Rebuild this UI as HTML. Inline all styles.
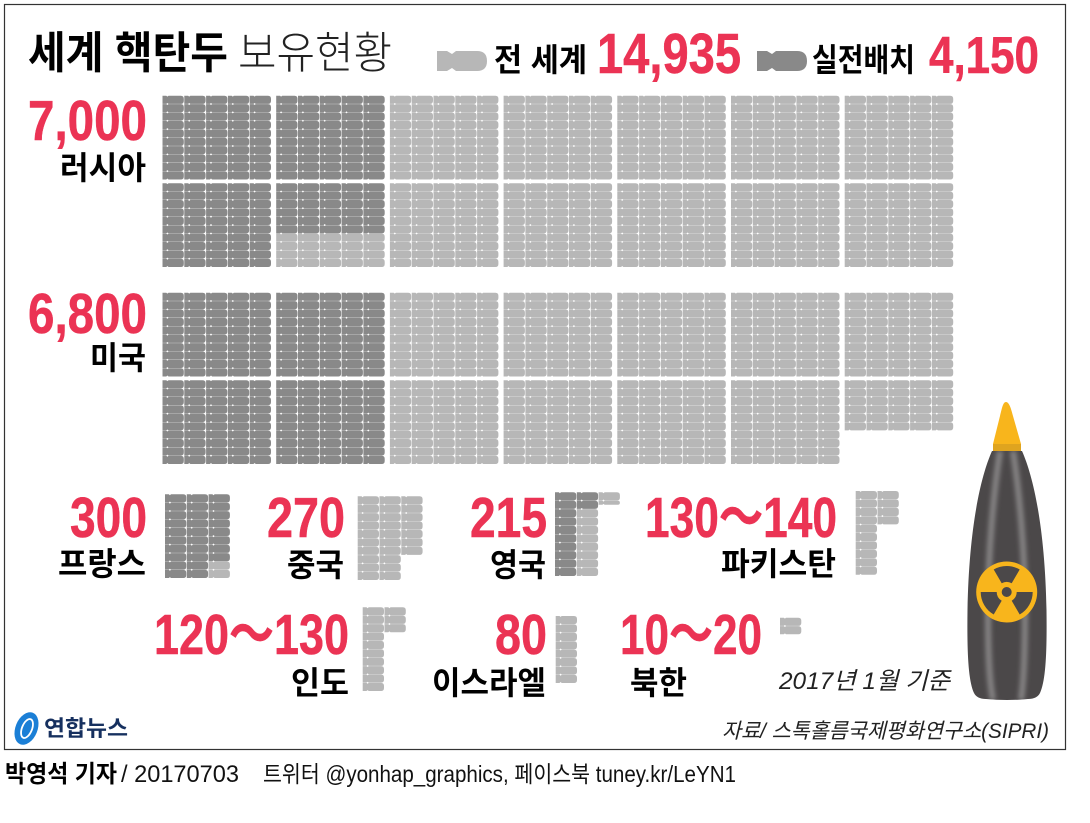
<!DOCTYPE html>
<html lang="ko">
<head>
<meta charset="utf-8">
<title>세계 핵탄두 보유현황</title>
<style>
html,body{margin:0;padding:0;background:#fff;width:1090px;height:823px;overflow:hidden}
svg{display:block}
text{font-family:"Liberation Sans","Noto Sans CJK KR",sans-serif}
.kr{font-family:"Noto Sans CJK KR","Liberation Sans",sans-serif;font-weight:700;fill:#000}
.num{font-family:"Liberation Sans","Noto Sans CJK KR",sans-serif;font-weight:700;fill:#eb3354;stroke:#eb3354;stroke-width:.5}
.it{font-family:"Liberation Sans","Noto Sans CJK KR",sans-serif;font-style:italic;fill:#222}
</style>
</head>
<body>
<svg id="chart" xmlns="http://www.w3.org/2000/svg" width="1090" height="823" viewBox="0 0 1090 823">
  <defs>
    <clipPath id="body-clip"><path d="M992,451 L1022,451 C1034,478 1045,530 1046.500,610 C1047,650 1046,680 1040,693 Q1037,699 1028,699 Q1007,701 986,699 Q977,699 974,693 C968,680 967,650 967.500,610 C969,530 980,478 992,451 Z"/></clipPath>
    <filter id="blur-band" x="-100%" y="-10%" width="300%" height="120%"><feGaussianBlur stdDeviation="2.400"/></filter>
  </defs>

  <rect x="4.500" y="4.500" width="1061" height="745" fill="#fff" stroke="#333" stroke-width="1.200"/>

  <text class="kr" x="28" y="68" font-size="44" textLength="200" lengthAdjust="spacingAndGlyphs">세계 핵탄두</text>
  <text class="kr" x="238" y="68" font-size="44" textLength="154" lengthAdjust="spacingAndGlyphs" style="font-weight:300;fill:#222">보유현황</text>

  <path fill="#b7b7b7" d="M437,51 L447,51 L452,54 L456,51 L477,51 Q487,51 487,61 Q487,71 477,71 L456,71 L452,68 L447,71 L437,71 Z"/>
  <text class="kr" x="494" y="71" font-size="32" textLength="93" lengthAdjust="spacingAndGlyphs">전 세계</text>
  <text class="num" x="597" y="73" font-size="57" textLength="144" lengthAdjust="spacingAndGlyphs">14,935</text>
  <path fill="#898989" d="M757,51 L767,51 L772,54 L776,51 L797,51 Q807,51 807,61 Q807,71 797,71 L776,71 L772,68 L767,71 L757,71 Z"/>
  <text class="kr" x="812" y="71" font-size="32" textLength="103" lengthAdjust="spacingAndGlyphs">실전배치</text>
  <text class="num" x="929" y="73" font-size="52" textLength="110" lengthAdjust="spacingAndGlyphs">4,150</text>

  <g id="marks"></g>

  <text class="num" x="28" y="140" font-size="57" textLength="119" lengthAdjust="spacingAndGlyphs">7,000</text>
  <text class="kr" x="60" y="179" font-size="32" textLength="86" lengthAdjust="spacingAndGlyphs">러시아</text>
  <text class="num" x="28" y="333" font-size="57" textLength="119" lengthAdjust="spacingAndGlyphs">6,800</text>
  <text class="kr" x="90" y="369" font-size="32" textLength="56" lengthAdjust="spacingAndGlyphs">미국</text>
  <text class="num" x="70" y="537" font-size="57" textLength="77" lengthAdjust="spacingAndGlyphs">300</text>
  <text class="kr" x="58" y="575" font-size="32" textLength="88" lengthAdjust="spacingAndGlyphs">프랑스</text>
  <text class="num" x="267" y="537" font-size="57" textLength="78" lengthAdjust="spacingAndGlyphs">270</text>
  <text class="kr" x="287" y="576" font-size="32" textLength="57" lengthAdjust="spacingAndGlyphs">중국</text>
  <text class="num" x="470" y="537" font-size="57" textLength="77" lengthAdjust="spacingAndGlyphs">215</text>
  <text class="kr" x="490" y="576" font-size="32" textLength="56" lengthAdjust="spacingAndGlyphs">영국</text>
  <text class="num" x="645" y="537" font-size="57" textLength="192" lengthAdjust="spacingAndGlyphs">130～140</text>
  <text class="kr" x="721" y="575" font-size="32" textLength="115" lengthAdjust="spacingAndGlyphs">파키스탄</text>
  <text class="num" x="154" y="654" font-size="57" textLength="195" lengthAdjust="spacingAndGlyphs">120～130</text>
  <text class="kr" x="291" y="694" font-size="32" textLength="58" lengthAdjust="spacingAndGlyphs">인도</text>
  <text class="num" x="495" y="654" font-size="57" textLength="52" lengthAdjust="spacingAndGlyphs">80</text>
  <text class="kr" x="432" y="694" font-size="32" textLength="114" lengthAdjust="spacingAndGlyphs">이스라엘</text>
  <text class="num" x="620" y="654" font-size="57" textLength="142" lengthAdjust="spacingAndGlyphs">10～20</text>
  <text class="kr" x="630" y="694" font-size="32" textLength="57" lengthAdjust="spacingAndGlyphs">북한</text>

  <text class="it" x="779" y="689" font-size="24" textLength="171" lengthAdjust="spacingAndGlyphs">2017년 1월 기준</text>
  <text class="it" x="722" y="738" font-size="21" textLength="327" lengthAdjust="spacingAndGlyphs">자료/ 스톡홀름국제평화연구소(SIPRI)</text>

  <g>
    <path fill="#f8b51c" d="M1006,402 C1009,402 1011,408 1013,416 L1021,444 L993,444 L1000,416 C1002,408 1003,402 1006,402 Z"/>
    <rect x="993" y="444" width="28" height="7" fill="#dfa41f"/>
    <path fill="#4b4849" d="M992,451 L1022,451 C1034,478 1045,530 1046.500,610 C1047,650 1046,680 1040,693 Q1037,699 1028,699 Q1007,701 986,699 Q977,699 974,693 C968,680 967,650 967.500,610 C969,530 980,478 992,451 Z"/>
    <g clip-path="url(#body-clip)" fill="none" stroke="#868485" stroke-width="6" filter="url(#blur-band)">
      <path d="M1000,451 C994,490 988,550 988,610 C988,650 989,680 993,700"/>
      <path d="M1013,451 C1019,490 1025,550 1025,610 C1025,650 1024,680 1021,700"/>
    </g>
    <g>
      <circle cx="1006.700" cy="592" r="30.500" fill="#f8b51c"/>
      <path fill="#4b4849" d="M1006.700,592 m-13,-22.500 A26,26 0 0 1 1019.700,569.500 L1011.700,583.300 A10,10 0 0 0 1001.700,583.300 Z"/>
      <path fill="#4b4849" d="M980.700,592 L996.700,592 A10,10 0 0 0 1001.700,600.700 L993.700,614.500 A26,26 0 0 1 980.700,592 Z"/>
      <path fill="#4b4849" d="M1032.700,592 L1016.700,592 A10,10 0 0 1 1011.700,600.700 L1019.700,614.500 A26,26 0 0 0 1032.700,592 Z"/>
      <circle cx="1006.700" cy="592" r="5" fill="#4b4849"/>
    </g>
  </g>

  <g>
    <ellipse cx="26.500" cy="728.500" rx="11" ry="17" transform="rotate(22 26.500 728.500)" fill="#1b7fd6"/>
    <ellipse cx="27" cy="728.500" rx="5" ry="10" transform="rotate(22 27 728.500)" fill="none" stroke="#fff" stroke-width="1.800"/>
    <text class="kr" x="44" y="736" font-size="22" textLength="84" lengthAdjust="spacingAndGlyphs" style="fill:#16305f">연합뉴스</text>
  </g>

  <text class="kr" x="5" y="782" font-size="24" textLength="112" lengthAdjust="spacingAndGlyphs">박영석 기자</text>
  <text x="121" y="782" font-size="24" textLength="118" lengthAdjust="spacingAndGlyphs" fill="#111">/ 20170703</text>
  <text x="263" y="782" font-size="23" textLength="473" lengthAdjust="spacingAndGlyphs" fill="#111">트위터 @yonhap_graphics, 페이스북 tuney.kr/LeYN1</text>
</svg>

<script>
// Chart data: warheads per country and how many of them are deployed
const countries = ['russia', 'usa', 'france', 'china', 'uk', 'pakistan', 'india', 'israel', 'north-korea'];
const totalWarheads = [7000, 6800, 300, 270, 215, 140, 130, 80, 20];
const deployedWarheads = [1800, 2000, 280, 0, 120, 0, 0, 0, 0];
const warheadsPerMark = 10;

// Axis functions: map mark index to pixel position
const COL_PITCH = 21.8, ROW_PITCH = 8.4, MARK_W = 21.3, MARK_H = 8.15;
const BLOCK_PITCH = 113.7, SUB_PITCH = 87.5;
const ROWS = 10, BLOCK_COLS = 5;
function largeMarkPos(i, left, top) {
  const block = Math.floor(i / 100);
  const sub = Math.floor((i % 100) / 50);
  const within = i % 50;
  return {
    x: left + block * BLOCK_PITCH + (within % BLOCK_COLS) * COL_PITCH,
    y: top + sub * SUB_PITCH + Math.floor(within / BLOCK_COLS) * ROW_PITCH
  };
}
function smallMarkPos(i, left, top) {
  return { x: left + Math.floor(i / ROWS) * COL_PITCH, y: top + (i % ROWS) * ROW_PITCH };
}
function markPath(h) {
  const w = MARK_W, r = Math.min(3, h / 2), n = 0.9;
  const neck = h > 4
    ? 'L3.8,0 L4.9,' + n + ' L6,0'
    : 'L6,0';
  const neckB = h > 4
    ? 'L6,' + h + ' L4.9,' + (h - n) + ' L3.8,' + h
    : 'L0,' + h;
  return 'M0,0 ' + neck + ' L' + (w - r) + ',0 Q' + w + ',0 ' + w + ',' + r +
    ' L' + w + ',' + (h - r) + ' Q' + w + ',' + h + ' ' + (w - r) + ',' + h + ' ' + neckB + ' L0,' + h + ' Z';
}

function placement(country) {
  const layout = {
    'russia': [162.5, 95.7, true],
    'usa': [162.5, 292.7, true],
    'france': [165, 494.3, false],
    'china': [357.7, 496.3, false],
    'uk': [555, 492.3, false],
    'pakistan': [855.7, 491, false],
    'india': [362.7, 607.3, false],
    'israel': [555.7, 616, false],
    'north-korea': [780, 617.7, false]
  };
  return layout[country];
}

const marksGroup = document.getElementById('marks');
const SVG_NS = 'http://www.w3.org/2000/svg';
countries.forEach(function (country, c) {
  const place = placement(country);
  const units = totalWarheads[c] / warheadsPerMark;
  const deployed = deployedWarheads[c] / warheadsPerMark;
  const g = document.createElementNS(SVG_NS, 'g');
  
  
  for (let i = 0; i < Math.ceil(units); i++) {
    const fraction = Math.min(1, units - i);
    const pos = place[2] ? largeMarkPos(i, place[0], place[1]) : smallMarkPos(i, place[0], place[1]);
    const mark = document.createElementNS(SVG_NS, 'path');
    
    
    mark.setAttribute('d', markPath(MARK_H * fraction));
    mark.setAttribute('transform', 'translate(' + pos.x.toFixed(2) + ',' + pos.y.toFixed(2) + ')');
    mark.setAttribute('fill', i < deployed ? '#898989' : '#b7b7b7');
    g.appendChild(mark);
  }
  marksGroup.appendChild(g);
});
</script>
</body>
</html>
